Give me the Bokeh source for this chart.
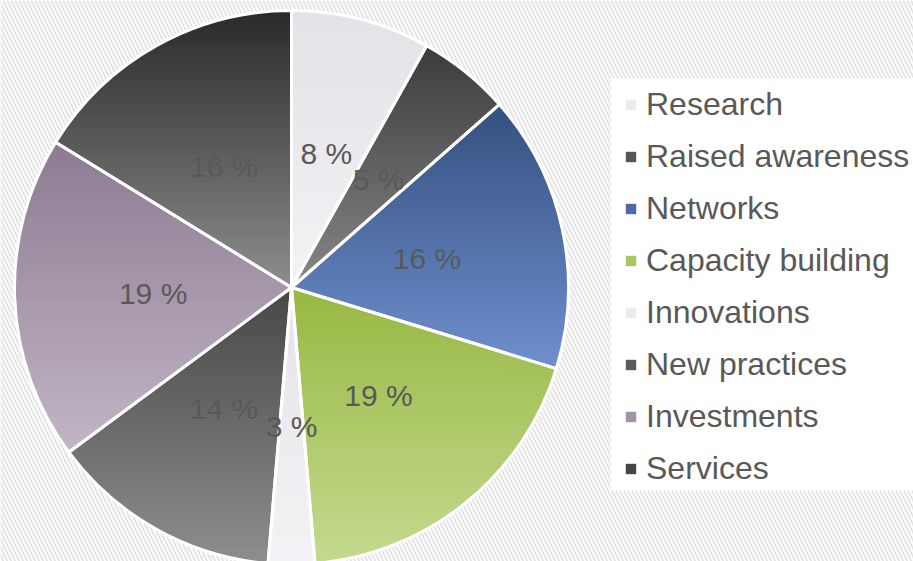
import math
import numpy as np
from bokeh.plotting import figure
from bokeh.models import ColumnDataSource, Range1d, Legend, LegendItem
from bokeh.core.properties import value
from bokeh.embed import file_html
from bokeh.resources import INLINE

# ---- data ----
categories = ["Research", "Raised awareness", "Networks", "Capacity building",
              "Innovations", "New practices", "Investments", "Services"]
counts = [3, 2, 6, 7, 1, 5, 7, 6]
top_colors = ["#e4e2e7", "#3c3c3c", "#33507f", "#98b843",
              "#e6e4e9", "#474747", "#8e7b92", "#2a2a2a"]
bottom_colors = ["#f3f2f5", "#888888", "#7090cf", "#c4da8f",
                 "#f3f2f5", "#8e8e8e", "#c2b6c6", "#8e8e8e"]
legend_colors = ["#ecebee", "#555555", "#4e69a6", "#a9c760",
                 "#ecebee", "#5a5a5a", "#a393a7", "#454545"]

W, H = 913, 561
CX, CY, R = 291, 274, 277
FONT = "Liberation Sans"
TXT = "#595959"

total = sum(counts)
fracs = [c / total for c in counts]
cum = np.concatenate([[0], np.cumsum(fracs)])
start_angles = [math.pi / 2 - 2 * math.pi * cum[i] for i in range(len(counts))]
end_angles = [math.pi / 2 - 2 * math.pi * cum[i + 1] for i in range(len(counts))]


def hex2rgb(h):
    h = h.lstrip("#")
    return [int(h[i:i + 2], 16) for i in (0, 2, 4)]


def rgb2hex(c):
    return "#%02x%02x%02x" % tuple(int(round(v)) for v in c)


def clip(poly, yv, keep_above):
    out = []
    n = len(poly)
    for i in range(n):
        p1 = poly[i]
        p2 = poly[(i + 1) % n]
        in1 = (p1[1] >= yv) if keep_above else (p1[1] <= yv)
        in2 = (p2[1] >= yv) if keep_above else (p2[1] <= yv)
        if in1:
            out.append(p1)
        if in1 != in2:
            t = (yv - p1[1]) / (p2[1] - p1[1])
            out.append((p1[0] + t * (p2[0] - p1[0]), yv))
    return out


xs, ys, cols = [], [], []
for i in range(len(counts)):
    a0, a1 = start_angles[i], end_angles[i]
    n = max(4, int(abs(a0 - a1) * 60))
    angs = np.linspace(a0, a1, n)
    poly = [(CX, CY)] + [(CX + R * math.cos(a), CY + R * math.sin(a)) for a in angs]
    ymin = min(p[1] for p in poly)
    ymax = max(p[1] for p in poly)
    c_top = np.array(hex2rgb(top_colors[i]), float)
    c_bot = np.array(hex2rgb(bottom_colors[i]), float)
    nb = max(2, int((ymax - ymin) / 3))
    edges = np.linspace(ymin, ymax, nb + 1)
    for b in range(nb):
        lo, hi = edges[b], edges[b + 1]
        pc = clip(clip(poly, lo - 0.3, True), hi + 0.3, False)
        if len(pc) < 3:
            continue
        t = 1 - ((lo + hi) / 2 - ymin) / (ymax - ymin)  # 0 at top, 1 at bottom
        col = rgb2hex(c_top + (c_bot - c_top) * t)
        xs.append([p[0] for p in pc])
        ys.append([p[1] for p in pc])
        cols.append(col)

p = figure(width=W, height=H, output_backend="svg", toolbar_location=None,
           x_range=Range1d(0, W), y_range=Range1d(0, H),
           x_axis_type=None, y_axis_type=None, min_border=0)
p.grid.visible = False
p.outline_line_color = None
p.background_fill_color = "white"
p.border_fill_color = "white"

# hatched background
p.quad(left=[0], right=[W], bottom=[0], top=[H], fill_color="white", line_color=None,
       hatch_pattern="\\", hatch_color="#e4e4e4", hatch_weight=2, hatch_scale=8)

# legend box background
p.quad(left=[610], right=[W], bottom=[71], top=[483], fill_color="white", line_color=None)

p.patches(xs="xs", ys="ys", fill_color="cols", line_color="cols", line_width=0.8,
          source=ColumnDataSource(dict(xs=xs, ys=ys, cols=cols)))

wsrc = ColumnDataSource(dict(start=start_angles, end=end_angles))
p.wedge(x=CX, y=CY, radius=R, start_angle="start", end_angle="end", direction="clock",
        fill_alpha=0, line_color="white", line_width=3, source=wsrc)

mid = [(start_angles[i] + end_angles[i]) / 2 for i in range(len(counts))]
lx = [CX + 0.5 * R * math.cos(a) for a in mid]
ly = [CY + 0.5 * R * math.sin(a) for a in mid]
labels = ["%d %%" % round(f * 100) for f in fracs]
p.text(x=lx, y=ly, text=labels, text_align="center", text_baseline="middle",
       text_font=value(FONT), text_font_size="30px", text_color=TXT)

items = []
nan = float("nan")
for i, cat in enumerate(categories):
    r = p.quad(left=[nan], right=[nan], top=[nan], bottom=[nan],
               fill_color=legend_colors[i], line_color=None)
    items.append(LegendItem(label=cat, renderers=[r]))

legend = Legend(items=items, location=(624, 74), orientation="vertical",
                background_fill_alpha=0, border_line_color=None,
                label_text_font=FONT,
                label_text_font_size="32px", label_text_color=TXT,
                glyph_width=13, glyph_height=13, label_standoff=9,
                spacing=15, padding=15, margin=0)
p.add_layout(legend, "center")

open("out.html", "w").write(file_html(p, INLINE))
